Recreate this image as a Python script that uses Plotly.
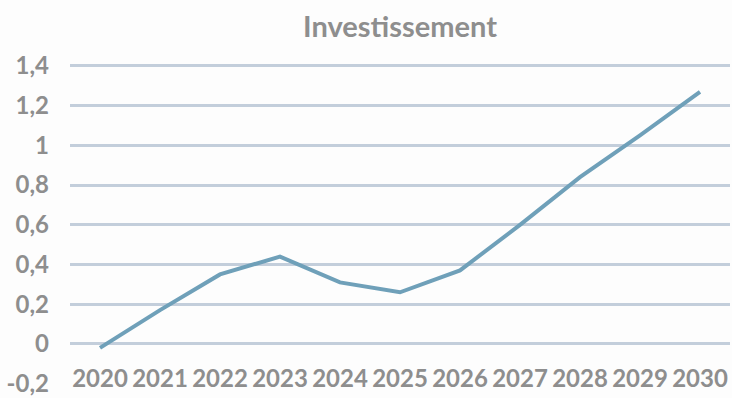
import plotly.graph_objects as go

years = ["2020", "2021", "2022", "2023", "2024", "2025", "2026", "2027", "2028", "2029", "2030"]
values = [-0.02, 0.17, 0.35, 0.44, 0.31, 0.26, 0.37, 0.60, 0.84, 1.05, 1.27]
y_ticks = [-0.2, 0, 0.2, 0.4, 0.6, 0.8, 1, 1.2, 1.4]
y_tick_text = ["-0,2", "0", "0,2", "0,4", "0,6", "0,8", "1", "1,2", "1,4"]

grey = "#8e8e8e"
fam = "Lato, sans-serif"
bg = "#fdfdfd"
fig = go.Figure()
fig.add_trace(go.Scatter(
    x=years, y=values, mode="lines",
    line=dict(color="#6fa0b9", width=4),
    showlegend=False, hoverinfo="skip",
))
fig.update_layout(
    width=732, height=398,
    margin=dict(l=70, r=2, t=64, b=14),
    paper_bgcolor=bg, plot_bgcolor=bg,
    title=dict(text="<b>Investissement</b>", x=0.5465, xanchor="center",
               y=1 - 27 / 398, yanchor="middle",
               font=dict(family=fam, size=29, color=grey)),
    font=dict(family=fam, color=grey),
)
fig.update_xaxes(
    type="category", range=[-0.5, 10.5],
    showgrid=False, zeroline=False, showline=False,
    ticks="", ticklabelposition="outside", ticklabelstandoff=-22,
    tickfont=dict(family=fam, size=24, color=grey, weight="bold"),
)
fig.update_yaxes(
    range=[-0.202, 1.41], tickvals=y_ticks, ticktext=y_tick_text,
    showgrid=True, gridcolor="#c3cedb", gridwidth=3,
    zeroline=False, showline=False, ticks="",
    ticklabelstandoff=20,
    tickfont=dict(family=fam, size=24, color=grey, weight="bold"),
)
fig.write_html("out.html")
